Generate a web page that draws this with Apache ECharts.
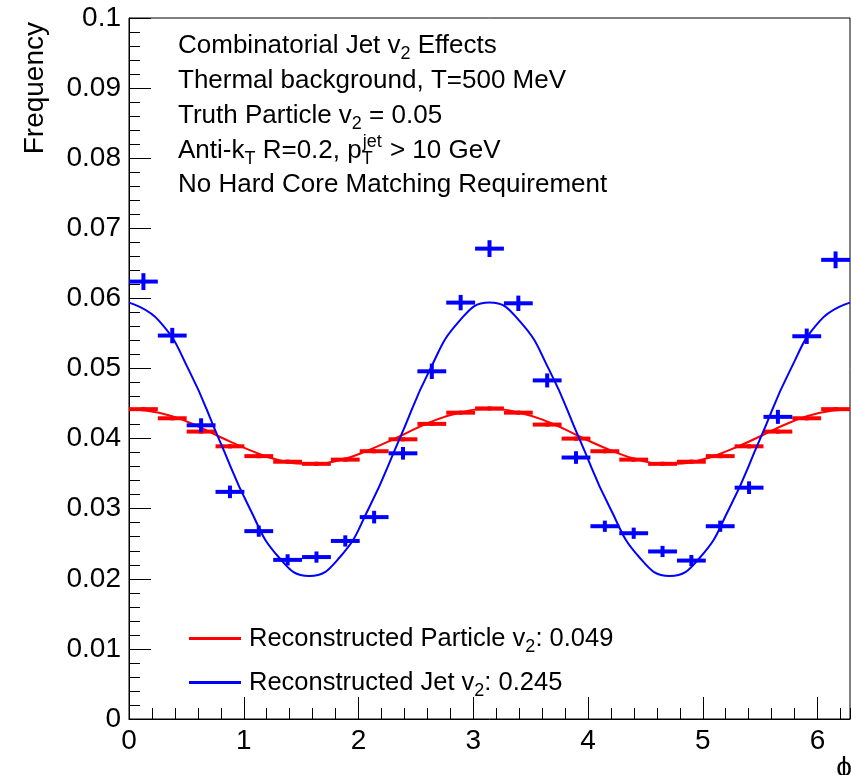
<!DOCTYPE html>
<html><head><meta charset="utf-8">
<script src="https://cdn.jsdelivr.net/npm/echarts@6/dist/echarts.min.js"></script>
<style>html,body{margin:0;padding:0;background:#fff}#c{width:851px;height:775px}</style>
</head><body><div id="c"></div>
<script>
// ---- data ----
const PHI_MIN = 0;
const PHI_MAX = 6.283185307179586;
const N_BINS = 25;
const Y_MIN = 0, Y_MAX = 0.1, Y_STEP = 0.01;
const X_STEP = 1, X_MINOR_STEP = 0.2;

const jetHist = [0.0624, 0.0547, 0.0419, 0.0324, 0.0268, 0.0227, 0.0231, 0.0254, 0.0288, 0.0379,
                 0.0496, 0.0594, 0.0671, 0.0593, 0.0483, 0.0373, 0.0275, 0.0265, 0.0239, 0.0226,
                 0.0275, 0.0330, 0.0431, 0.0546, 0.0655];
const jetErr  = [0.0012, 0.0011, 0.0010, 0.0009, 0.0008, 0.0008, 0.0008, 0.0008, 0.0009, 0.0009,
                 0.0011, 0.0011, 0.0012, 0.0011, 0.0010, 0.0009, 0.0008, 0.0008, 0.0008, 0.0008,
                 0.0008, 0.0009, 0.0010, 0.0011, 0.0012];
const partHist = [0.0442, 0.0429, 0.0410, 0.0389, 0.0375, 0.0367, 0.0364, 0.0370, 0.0382, 0.0399,
                  0.0421, 0.0437, 0.0443, 0.0437, 0.0420, 0.0400, 0.0382, 0.0370, 0.0364, 0.0367,
                  0.0375, 0.0389, 0.0410, 0.0429, 0.0442];
const partErr  = [0.0003, 0.0003, 0.0003, 0.0003, 0.0003, 0.0003, 0.0003, 0.0003, 0.0003, 0.0003,
                  0.0003, 0.0003, 0.0003, 0.0003, 0.0003, 0.0003, 0.0003, 0.0003, 0.0003, 0.0003,
                  0.0003, 0.0003, 0.0003, 0.0003, 0.0003];

const fitPhi  = [0, 0.262, 0.524, 0.785, 1.047, 1.309, 1.571, 1.833, 2.094, 2.356, 2.618, 2.880, 3.142,
                 3.403, 3.665, 3.927, 4.189, 4.451, 4.712, 4.974, 5.236, 5.498, 5.760, 6.021, 6.283];
const jetFit  = [0.0594, 0.0568, 0.0497, 0.0399, 0.0302, 0.0230, 0.0204, 0.0230, 0.0302, 0.0399, 0.0497, 0.0568, 0.0594,
                 0.0568, 0.0497, 0.0399, 0.0302, 0.0230, 0.0204, 0.0230, 0.0302, 0.0399, 0.0497, 0.0568, 0.0594];
const partFit = [0.0442, 0.0437, 0.0423, 0.0403, 0.0384, 0.0369, 0.0364, 0.0369, 0.0384, 0.0403, 0.0423, 0.0437, 0.0442,
                 0.0437, 0.0423, 0.0403, 0.0384, 0.0369, 0.0364, 0.0369, 0.0384, 0.0403, 0.0423, 0.0437, 0.0442];

const legendNames = ['Reconstructed Particle', 'Reconstructed Jet'];
const legendTexts = ['Reconstructed Particle v{s|2}: 0.049', 'Reconstructed Jet v{s|2}: 0.245'];
const infoLines = [
  'Combinatorial Jet v{s|2} Effects',
  'Thermal background, T=500 MeV',
  'Truth Particle v{s|2} = 0.05',
  'Anti-k{s|T} R=0.2, p{s|T}',
  'No Hard Core Matching Requirement'
];
const xTitle = 'ϕ';
const yTitle = 'Frequency';

// ---- chart ----
const FONT = '"Liberation Sans", Arial, Helvetica, sans-serif';
const RED = '#ff0000', BLUE = '#0000ff';
const chart = echarts.init(document.getElementById('c'), null, {renderer: 'canvas'});

const binW = (PHI_MAX - PHI_MIN) / N_BINS;
function histData(vals, errs) {
  return vals.map((v, i) => [PHI_MIN + i * binW, PHI_MIN + (i + 1) * binW, v, errs[i]]);
}
function crossSeries(name, vals, errs, color, z) {
  return {
    type: 'custom', name: name, z: z,
    data: histData(vals, errs),
    encode: {x: [0, 1], y: 2},
    renderItem: function (params, api) {
      const lo = api.value(0), hi = api.value(1), y = api.value(2), e = api.value(3);
      const c = (lo + hi) / 2;
      const pL = api.coord([lo, y]), pR = api.coord([hi, y]);
      const pT = api.coord([c, y + e]), pB = api.coord([c, y - e]);
      return {type: 'group', children: [
        {type: 'line', shape: {x1: pL[0], y1: pL[1], x2: pR[0], y2: pR[1]}, style: {stroke: color, lineWidth: 4}},
        {type: 'line', shape: {x1: pT[0], y1: pT[1], x2: pB[0], y2: pB[1]}, style: {stroke: color, lineWidth: 4}}
      ]};
    }
  };
}
function fitSeries(name, vals, color, z) {
  return {
    type: 'line', name: name, z: z, smooth: true, showSymbol: false, symbol: 'none',
    data: fitPhi.map((p, i) => [p, vals[i]]),
    lineStyle: {color: color, width: 2}, itemStyle: {color: color},
    emphasis: {disabled: true}
  };
}

const FS = 26, SFS = 18;
const baseText = {fontFamily: FONT, fontSize: FS, color: '#000', lineHeight: 30};
const subStyle = {fontFamily: FONT, fontSize: SFS, color: '#000', lineHeight: 30, padding: [17, 0, 0, 0]};

// measure for the stacked p_T^jet
const ctx = document.createElement('canvas').getContext('2d');
function tw(str, size) { ctx.font = size + 'px ' + FONT; return ctx.measureText(str).width; }
const TEXT_X = 178;
const pEnd = TEXT_X + tw('Anti-k', FS) + tw('T', SFS) + tw(' R=0.2, p', FS);
const jetW = tw('jet', SFS);

const lineYs = [46, 81, 116, 151, 185];
const graphics = infoLines.map((t, i) => ({
  type: 'text', x: TEXT_X, y: lineYs[i], silent: true,
  style: Object.assign({}, baseText, {text: t, verticalAlign: 'middle', align: 'left', rich: {s: subStyle}})
}));
graphics.push({type: 'text', x: pEnd + 1, y: 142, silent: true,
  style: {text: 'jet', fontFamily: FONT, fontSize: SFS, fill: '#000', verticalAlign: 'middle', align: 'left'}});
graphics.push({type: 'text', x: pEnd + jetW + 2, y: 151, silent: true,
  style: Object.assign({}, baseText, {text: ' > 10 GeV', verticalAlign: 'middle', align: 'left'})});
graphics.push({type: 'text', x: 35, y: 22, rotation: Math.PI / 2, silent: true,
  style: {text: yTitle, fontFamily: FONT, fontSize: 28, fill: '#000', align: 'right', verticalAlign: 'middle'}});
graphics.push({type: 'text', x: 852, y: 768, silent: true,
  style: {text: xTitle, fontFamily: FONT, fontSize: 28, fill: '#000', align: 'right', verticalAlign: 'middle'}});

const option = {
  animation: false,
  backgroundColor: '#fff',
  grid: {left: 129, right: 1, top: 18, bottom: 56, show: true, borderColor: '#000', borderWidth: 1, backgroundColor: 'transparent'},
  xAxis: [
    {type: 'value', min: PHI_MIN, max: PHI_MAX, interval: X_STEP, position: 'bottom',
     axisLine: {show: true, onZero: false, lineStyle: {color: '#000', width: 1}},
     axisTick: {show: true, inside: true, length: 22, lineStyle: {color: '#000'}},
     splitLine: {show: false},
     axisLabel: {show: true, margin: 8, fontSize: 28, fontFamily: FONT, color: '#000', showMaxLabel: false,
                 formatter: v => (Math.abs(v - Math.round(v)) < 1e-9 ? String(Math.round(v)) : '')}},
    {type: 'value', min: PHI_MIN, max: PHI_MAX, interval: X_MINOR_STEP, position: 'bottom', gridIndex: 0,
     axisLine: {show: false}, axisTick: {show: true, inside: true, length: 11, lineStyle: {color: '#000'}},
     splitLine: {show: false}, axisLabel: {show: false}}
  ],
  yAxis: {type: 'value', min: Y_MIN, max: Y_MAX, interval: Y_STEP,
    axisLine: {show: true, onZero: false, lineStyle: {color: '#000', width: 1}},
    axisTick: {show: true, inside: true, length: 22, lineStyle: {color: '#000'}},
    minorTick: {show: true, splitNumber: 5, length: 11, lineStyle: {color: '#000'}},
    splitLine: {show: false}, minorSplitLine: {show: false},
    axisLabel: {margin: 8, fontSize: 28, fontFamily: FONT, color: '#000'}},
  legend: {
    orient: 'vertical', left: 184, top: 616, itemWidth: 52, itemHeight: 3, itemGap: 9, icon: 'rect',
    data: legendNames, selectedMode: false,
    formatter: n => legendTexts[legendNames.indexOf(n)],
    textStyle: {fontFamily: FONT, fontSize: 25.5, color: '#000', lineHeight: 30, padding: [0, 0, 0, 3], rich: {s: subStyle}}
  },
  graphic: graphics,
  series: [
    crossSeries('partHist', partHist, partErr, RED, 2),
    fitSeries(legendNames[0], partFit, RED, 3),
    crossSeries('jetHist', jetHist, jetErr, BLUE, 4),
    fitSeries(legendNames[1], jetFit, BLUE, 5)
  ]
};
chart.setOption(option);
</script></body></html>
